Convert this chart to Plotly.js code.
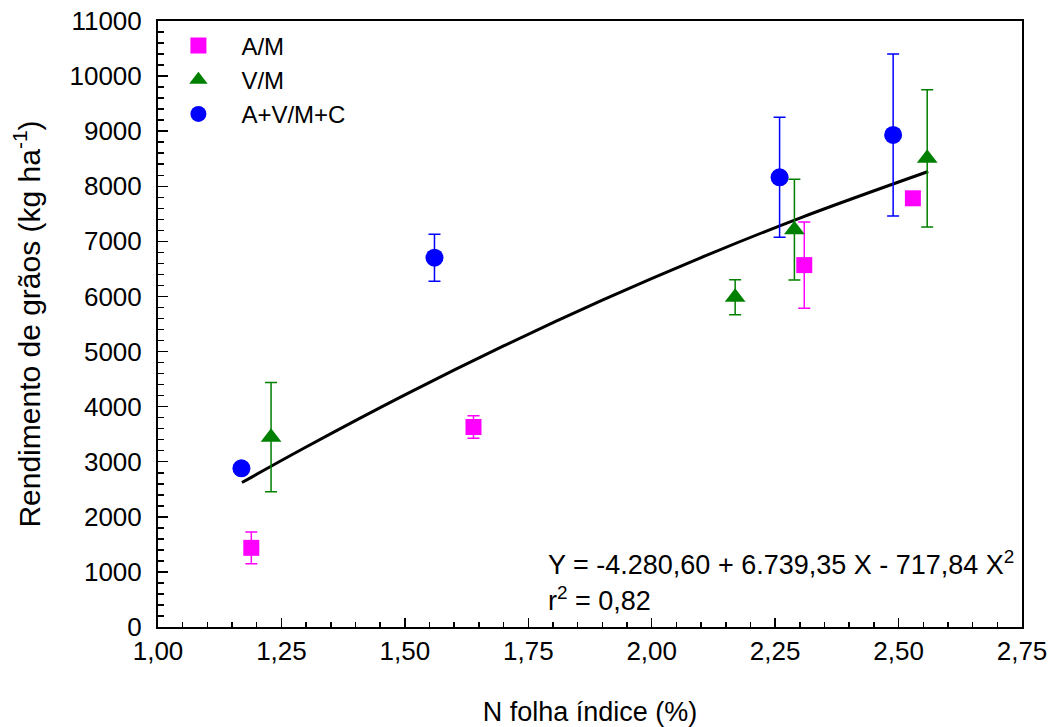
<!DOCTYPE html>
<html>
<head>
<meta charset="utf-8">
<script src="https://cdn.plot.ly/plotly-3.0.1.min.js"></script>
<style>html,body{margin:0;padding:0;background:#fff;}#chart{width:1055px;height:727px;}</style>
</head>
<body>
<div id="chart"></div>
<script>
// A/M
const amX = [1.189, 1.639, 2.309, 2.529];
const amY = [1437, 3630, 6569, 7782];
const amErr = [288, 205, 784, 0];
// V/M
const vmX = [1.229, 2.169, 2.289, 2.558];
const vmY = [3446, 5987, 7213, 8507];
const vmErr = [990, 318, 914, 1246];
// A+V/M+C
const avX = [1.169, 1.560, 2.259, 2.489];
const avY = [2881, 6704, 8163, 8931];
const avErr = [0, 427, 1089, 1470];
// Regression curve
const fitX = [1.17, 1.3, 1.5, 1.7, 1.9, 2.1, 2.3, 2.56];
const fitY = [2622, 3267, 4213, 5102, 5933, 6706, 7423, 8268];

const FONT = 'Arial, "Liberation Sans", sans-serif';

const traces = [
  {x: fitX, y: fitY, mode: 'lines', line: {color: '#000', width: 3, shape: 'spline'}, showlegend: false, hoverinfo: 'skip'},
  {x: amX, y: amY, name: 'A/M', mode: 'markers', type: 'scatter',
   marker: {symbol: 'square', size: 16, color: '#FF00FF'},
   error_y: {type: 'data', array: amErr, visible: true, color: '#FF00FF', thickness: 1.5, width: 6}},
  {x: vmX, y: vmY, name: 'V/M', mode: 'markers', type: 'scatter',
   marker: {symbol: 'triangle-up', size: 18, color: '#008000'},
   error_y: {type: 'data', array: vmErr, visible: true, color: '#008000', thickness: 1.5, width: 6}},
  {x: avX, y: avY, name: 'A+V/M+C', mode: 'markers', type: 'scatter',
   marker: {symbol: 'circle', size: 18, color: '#0000FF'},
   error_y: {type: 'data', array: avErr, visible: true, color: '#0000FF', thickness: 1.5, width: 6}}
];

const layout = {
  width: 1055, height: 727,
  margin: {l: 157.5, r: 33, t: 21, b: 100},
  paper_bgcolor: '#fff', plot_bgcolor: '#fff',
  separators: ',.',
  font: {family: FONT, size: 26, color: '#000'},
  showlegend: true,
  legend: {x: -0.003, y: 0.996, xanchor: 'left', yanchor: 'top', bgcolor: 'rgba(0,0,0,0)',
           font: {family: FONT, size: 24, color: '#000'}, itemwidth: 76, tracegroupgap: 0},
  xaxis: {
    range: [1, 2.75], dtick: 0.25, tick0: 1, tickformat: '.2f',
    showgrid: false, zeroline: false, showline: true, mirror: true, linecolor: '#000', linewidth: 2,
    ticks: 'inside', ticklen: 9, tickwidth: 1.5, tickcolor: '#000',
    minor: {dtick: 0.05, ticks: 'inside', ticklen: 5, tickwidth: 1.5, tickcolor: '#000', showgrid: false},
    tickfont: {family: FONT, size: 26},
    title: {text: 'N folha índice (%)', font: {family: FONT, size: 27}, standoff: 38}
  },
  yaxis: {
    range: [0, 11000], dtick: 1000, tickformat: 'd',
    showgrid: false, zeroline: false, showline: true, mirror: true, linecolor: '#000', linewidth: 2,
    ticks: 'inside', ticklen: 10, tickwidth: 1.5, tickcolor: '#000', ticklabelstandoff: 9,
    minor: {dtick: 200, ticks: 'inside', ticklen: 6, tickwidth: 1.5, tickcolor: '#000', showgrid: false},
    tickfont: {family: FONT, size: 26},
    title: {text: 'Rendimento de grãos (kg ha<sup>-1</sup>)', font: {family: FONT, size: 30}, standoff: 20}
  },
  annotations: [
    {xref: 'paper', yref: 'paper', x: 0.449, y: 0.105, xanchor: 'left', yanchor: 'middle', showarrow: false,
     text: 'Y = -4.280,60 + 6.739,35 X - 717,84 X<sup>2</sup>', font: {family: FONT, size: 27, color: '#000'}},
    {xref: 'paper', yref: 'paper', x: 0.449, y: 0.047, xanchor: 'left', yanchor: 'middle', showarrow: false,
     text: 'r<sup>2</sup> = 0,82', font: {family: FONT, size: 27, color: '#000'}}
  ]
};

Plotly.newPlot('chart', traces, layout, {displayModeBar: false, staticPlot: true});
</script>
</body>
</html>
